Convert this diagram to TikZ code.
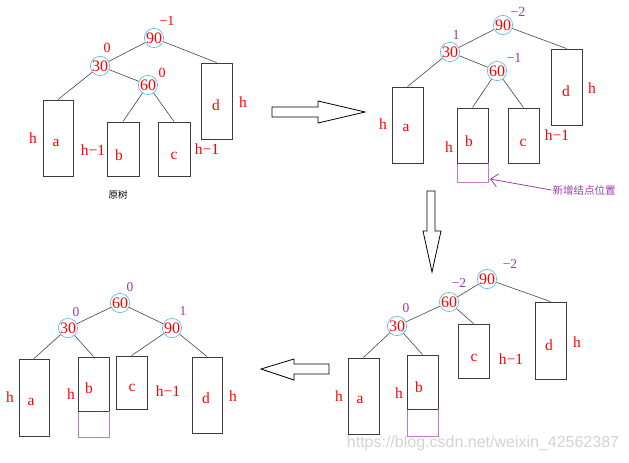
\documentclass[tikz,border=0pt]{standalone}
\usepackage{fontspec}
\setmainfont{Liberation Serif}
\newfontfamily\cjk{Noto Sans CJK SC}
\newfontfamily\wmfont{Liberation Sans}
\usetikzlibrary{arrows.meta}
\definecolor{cblue}{RGB}{95,190,240}
\definecolor{bfpurple}{RGB}{150,60,170}
\definecolor{newpurple}{RGB}{195,120,205}
\definecolor{darkpurple}{RGB}{95,45,95}
\definecolor{edgegray}{RGB}{70,70,70}
\definecolor{boxgray}{RGB}{60,60,60}
\definecolor{notepurple}{RGB}{160,60,175}
\tikzset{
 keynode/.style={circle, draw=cblue, line width=0.7pt, minimum size=19pt, inner sep=0pt, text=red, font=\fontsize{16}{16}\selectfont},
 tbox/.style={draw=boxgray, line width=0.9pt, inner sep=0pt},
 newbox/.style={draw=newpurple, line width=0.8pt, inner sep=0pt},
 lbl/.style={text=red, inner sep=0pt, font=\fontsize{15.5}{15.5}\selectfont},
 bfred/.style={text=red, inner sep=0pt, font=\fontsize{14}{14}\selectfont},
 bfp/.style={text=bfpurple, inner sep=0pt, font=\fontsize{13.5}{13.5}\selectfont},
 treeedge/.style={draw=edgegray, line width=0.6pt},
 bigarrow/.style={draw=black, line width=0.8pt, fill=white},
 sharededge/.style={draw=darkpurple, line width=1.1pt},
}
\begin{document}
\begin{tikzpicture}[x=1pt,y=-1pt]
\useasboundingbox (0,0) rectangle (629,463);
\fill[white] (0,0) rectangle (629,463);

%% ---------------- Tree 1 (top left) ----------------
\node[keynode] (t1n90) at (154,38) {90};
\node[keynode] (t1n30) at (100,66) {30};
\node[keynode] (t1n60) at (148,85) {60};
\node[bfred] (t1f90) at (167,21) {−1};
\node[bfred] (t1f30) at (107,48) {0};
\node[bfred] (t1f60) at (162,73) {0};
\node[tbox, minimum width=30pt, minimum height=76pt] (t1a) at (58,138) {};
\node[tbox, minimum width=32pt, minimum height=54pt] (t1b) at (123,149) {};
\node[tbox, minimum width=32pt, minimum height=54pt] (t1c) at (174,149) {};
\node[tbox, minimum width=31pt, minimum height=76pt] (t1d) at (216.5,101) {};
\draw[treeedge] (t1n90) -- (t1n30);
\draw[treeedge] (t1n90) -- (t1d.north);
\draw[treeedge] (t1n30) -- (t1n60);
\draw[treeedge] (t1n30) -- (t1a.north);
\draw[treeedge] (t1n60) -- (t1b.north);
\draw[treeedge] (t1n60) -- (t1c.north);
\node[lbl] (t1la) at (56,143) {a};
\node[lbl] (t1ha) at (33,138) {h};
\node[lbl] (t1hb) at (93,150) {h−1};
\node[lbl] (t1lb) at (119,155) {b};
\node[lbl] (t1lc) at (174,156) {c};
\node[lbl] (t1hc) at (207,149) {h−1};
\node[lbl] (t1ld) at (216,105) {d};
\node[lbl] (t1hd) at (243,102) {h};
\node[inner sep=0pt, font=\cjk\fontsize{9.5}{9.5}\selectfont] (t1cap) at (118,195) {原树};

%% ---------------- Tree 2 (top right) ----------------
\node[keynode] (t2n90) at (503,25) {90};
\node[keynode] (t2n30) at (450,52) {30};
\node[keynode] (t2n60) at (497,71) {60};
\node[bfp, font=\fontsize{14}{14}\selectfont] (t2f90) at (518,12) {−2};
\node[bfp, font=\fontsize{14}{14}\selectfont] (t2f30) at (456,35) {1};
\node[bfp, font=\fontsize{14}{14}\selectfont] (t2f60) at (514,58) {−1};
\node[tbox, minimum width=31pt, minimum height=76pt] (t2a) at (407.5,125) {};
\node[tbox, minimum width=31pt, minimum height=55pt] (t2b) at (472.5,135.5) {};
\node[newbox, minimum width=31pt, minimum height=19pt] (t2new) at (472.5,172.5) {};
\node[tbox, minimum width=31pt, minimum height=55pt] (t2c) at (523.5,135.5) {};
\node[tbox, minimum width=31pt, minimum height=76pt] (t2d) at (566.5,87) {};
\draw[sharededge] (t2b.south west) -- (t2b.south east);
\draw[treeedge] (t2n90) -- (t2n30);
\draw[treeedge] (t2n90) -- (t2d.north);
\draw[treeedge] (t2n30) -- (t2n60);
\draw[treeedge] (t2n30) -- (t2a.north);
\draw[treeedge] (t2n60) -- (t2b.north);
\draw[treeedge] (t2n60) -- (t2c.north);
\node[lbl] (t2la) at (406,128) {a};
\node[lbl] (t2ha) at (383,124) {h};
\node[lbl] (t2lb) at (469,141) {b};
\node[lbl] (t2hb) at (449,147) {h};
\node[lbl] (t2lc) at (523,143) {c};
\node[lbl] (t2hc) at (557,135) {h−1};
\node[lbl] (t2ld) at (566,91) {d};
\node[lbl] (t2hd) at (592,88) {h};
\node[inner sep=1pt, text=notepurple, font=\cjk\fontsize{10.5}{10.5}\selectfont] (t2note) at (584,190) {新增结点位置};
\coordinate (t2tip) at (490,179);
\draw[draw=notepurple, line width=0.8pt, -{Straight Barb[length=7pt,width=13pt]}] (t2note.west) -- (t2tip);

%% ---------------- Tree 3 (bottom right) ----------------
\node[keynode] (t3n90) at (487,279) {90};
\node[keynode] (t3n60) at (449,302) {60};
\node[keynode] (t3n30) at (397,326) {30};
\node[bfp] (t3f90) at (510,264) {−2};
\node[bfp] (t3f60) at (459,283) {−2};
\node[bfp] (t3f30) at (406,308) {0};
\node[tbox, minimum width=31pt, minimum height=76pt] (t3a) at (363.5,396) {};
\node[tbox, minimum width=31pt, minimum height=54pt] (t3b) at (422.5,382) {};
\node[newbox, minimum width=31pt, minimum height=27pt] (t3new) at (422.5,422.5) {};
\node[tbox, minimum width=31pt, minimum height=54pt] (t3c) at (473.5,351) {};
\node[tbox, minimum width=31pt, minimum height=77pt] (t3d) at (550.5,340.5) {};
\draw[sharededge] (t3b.south west) -- (t3b.south east);
\draw[treeedge] (t3n90) -- (t3n60);
\draw[treeedge] (t3n90) -- (t3d.north);
\draw[treeedge] (t3n60) -- (t3n30);
\draw[treeedge] (t3n60) -- (t3c.north);
\draw[treeedge] (t3n30) -- (t3a.north);
\draw[treeedge] (t3n30) -- (t3b.north);
\node[lbl] (t3la) at (360,400) {a};
\node[lbl] (t3ha) at (339,396) {h};
\node[lbl] (t3lb) at (419,387) {b};
\node[lbl] (t3hb) at (399,393) {h};
\node[lbl] (t3lc) at (474,358) {c};
\node[lbl] (t3hc) at (511,359) {h−1};
\node[lbl] (t3ld) at (549,345) {d};
\node[lbl] (t3hd) at (577,342) {h};

%% ---------------- Tree 4 (bottom left) ----------------
\node[keynode] (t4n60) at (120,303) {60};
\node[keynode] (t4n30) at (68,328) {30};
\node[keynode] (t4n90) at (172,328) {90};
\node[bfp] (t4f60) at (130,287) {0};
\node[bfp] (t4f30) at (76,312) {0};
\node[bfp] (t4f90) at (183,311) {1};
\node[tbox, minimum width=30pt, minimum height=77pt] (t4a) at (34,397.5) {};
\node[tbox, minimum width=31pt, minimum height=54pt] (t4b) at (93.5,384) {};
\node[newbox, minimum width=31pt, minimum height=26pt] (t4new) at (93.5,424) {};
\node[tbox, minimum width=31pt, minimum height=53pt] (t4c) at (131.5,382.5) {};
\node[tbox, minimum width=30pt, minimum height=76pt] (t4d) at (207,395) {};
\draw[sharededge] (t4b.south west) -- (t4b.south east);
\draw[treeedge] (t4n60) -- (t4n30);
\draw[treeedge] (t4n60) -- (t4n90);
\draw[treeedge] (t4n30) -- (t4a.north);
\draw[treeedge] (t4n30) -- (t4b.north);
\draw[treeedge] (t4n90) -- (t4c.north);
\draw[treeedge] (t4n90) -- (t4d.north);
\node[lbl] (t4la) at (31,402) {a};
\node[lbl] (t4ha) at (10,397) {h};
\node[lbl] (t4lb) at (89,388) {b};
\node[lbl] (t4hb) at (71,394) {h};
\node[lbl] (t4lc) at (132,388) {c};
\node[lbl] (t4hc) at (168,391) {h−1};
\node[lbl] (t4ld) at (206,398) {d};
\node[lbl] (t4hd) at (233,396) {h};

%% ---------------- Block arrows ----------------
\draw[bigarrow] (272,107) -- (318,107) -- (318,101) -- (365,112) -- (318,123) -- (318,117) -- (272,117) -- cycle;
\draw[bigarrow] (427,191) -- (435,191) -- (435,231) -- (441,231) -- (432,272) -- (423,231) -- (427,231) -- cycle;
\draw[bigarrow] (329,364) -- (294,364) -- (294,359) -- (261,369) -- (294,380) -- (294,374) -- (329,374) -- cycle;

%% ---------------- Watermark ----------------
\node[inner sep=0pt, text=black!17, font=\wmfont\fontsize{16}{16}\selectfont] (wm) at (483,443) {https://blog.csdn.net/weixin\_42562387};
\end{tikzpicture}
\end{document}
